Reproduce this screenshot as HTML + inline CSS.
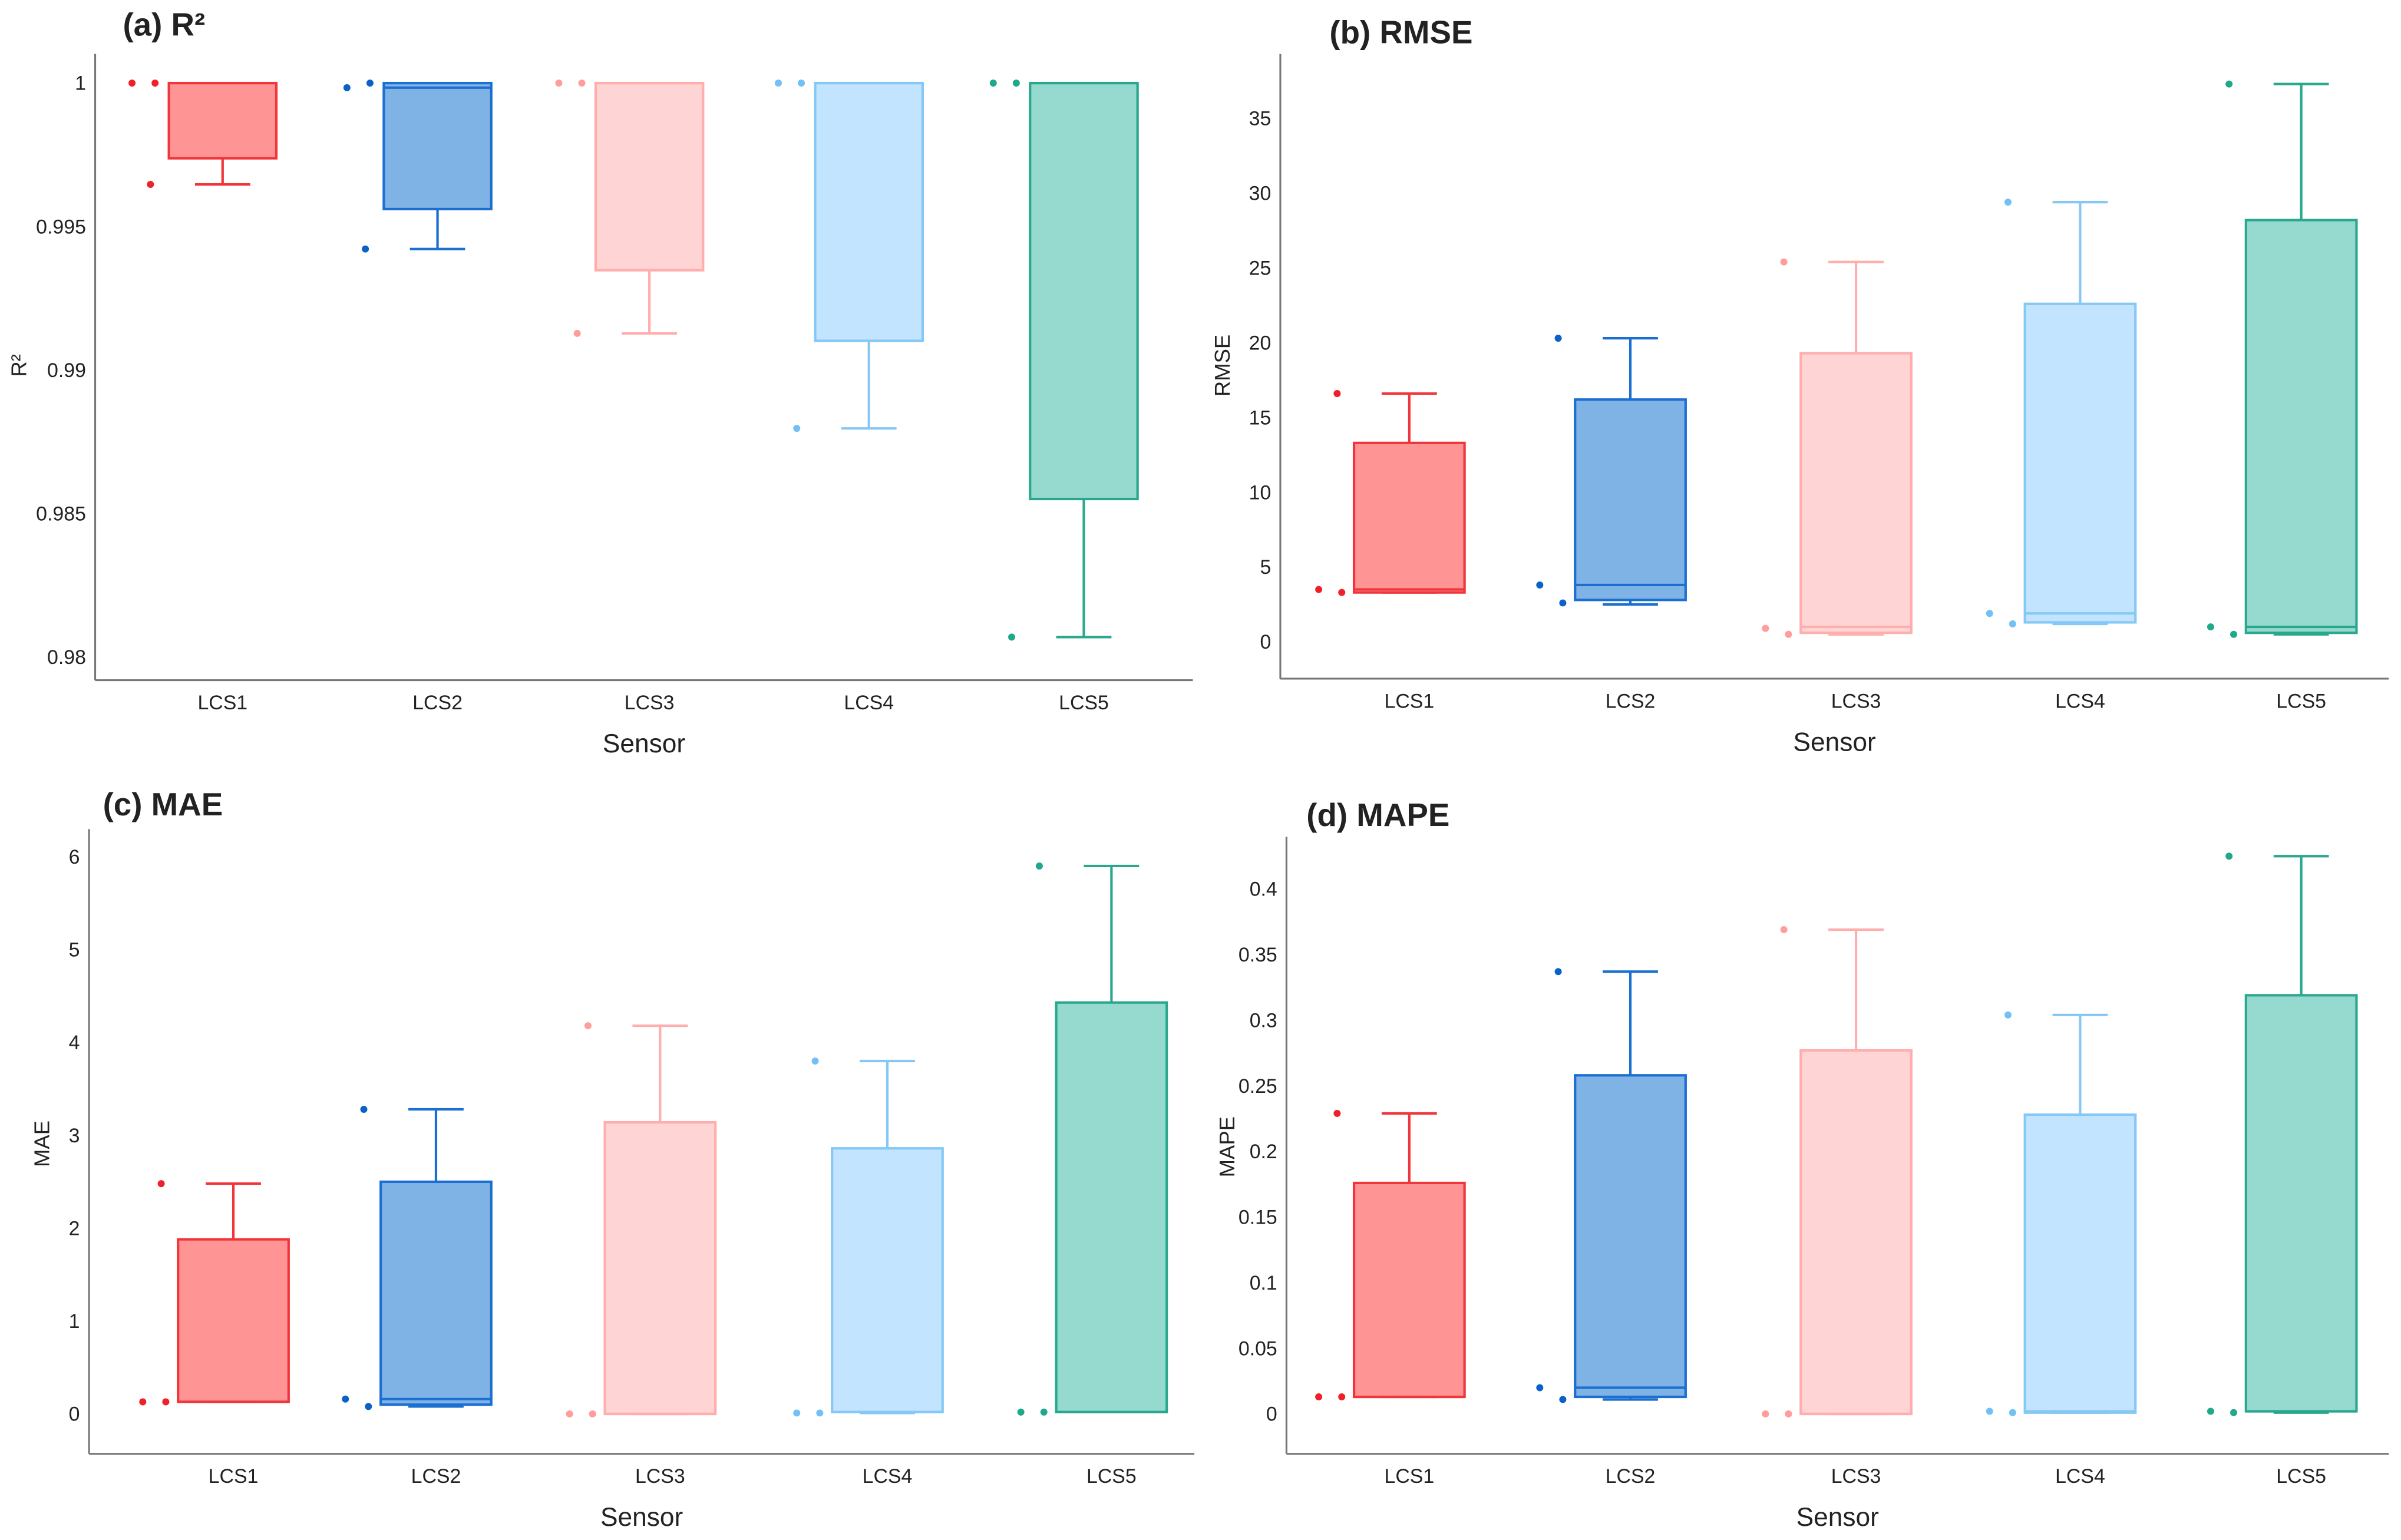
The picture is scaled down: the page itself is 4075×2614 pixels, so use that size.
<!DOCTYPE html>
<html><head><meta charset="utf-8"><style>
html,body{margin:0;padding:0;background:#fff}
svg{display:block}
text{font-family:"Liberation Sans",Arial,sans-serif;fill:#222}
</style></head><body>
<svg id="chart" width="4075" height="2614" viewBox="0 0 1564 1003" xmlns="http://www.w3.org/2000/svg"></svg>
<script>
const categories = ["LCS1","LCS2","LCS3","LCS4","LCS5"];
const strokes = ["#f0353b","#1a6fd0","#ffadad","#85c8f5","#2aa88e"];
const fills = ["#ff9494","#7fb2e5","#ffd4d4","#c2e4ff","#96d9cf"];
const dotColors = ["#f0202a","#0a62c8","#ff9c9c","#72c0f5","#1fa88c"];

// R2: [min,q1,median,q3,max]
const r2Stats = [[0.99647,0.99738,1.0,1.0,1.0],[0.99422,0.99561,0.99984,1.0,1.0],[0.99128,0.99348,1.0,1.0,1.0],[0.98797,0.99102,1.0,1.0,1.0],[0.98070,0.98551,1.0,1.0,1.0]];
const r2Points = [[1.0,1.0,0.99647],[0.99984,1.0,0.99422],[1.0,1.0,0.99128],[1.0,1.0,0.98797],[1.0,1.0,0.98070]];
const r2Ticks = [0.98,0.985,0.99,0.995,1];
const r2TickLabels = ["0.98","0.985","0.99","0.995","1"];

const rmseStats = [[3.3,3.3,3.5,13.3,16.6],[2.5,2.8,3.8,16.2,20.3],[0.5,0.6,1.0,19.3,25.4],[1.2,1.3,1.9,22.6,29.4],[0.5,0.6,1.0,28.2,37.3]];
const rmsePoints = [[3.5,3.3,16.6],[3.8,2.6,20.3],[0.9,0.5,25.4],[1.9,1.2,29.4],[1.0,0.5,37.3]];
const rmseTicks = [0,5,10,15,20,25,30,35];

const maeStats = [[0.13,0.13,0.13,1.88,2.48],[0.08,0.1,0.16,2.5,3.28],[0,0,0,3.14,4.18],[0.01,0.02,0.02,2.86,3.8],[0.02,0.02,0.02,4.43,5.9]];
const maePoints = [[0.13,0.13,2.48],[0.16,0.08,3.28],[0,0,4.18],[0.01,0.01,3.8],[0.02,0.02,5.9]];
const maeTicks = [0,1,2,3,4,5,6];

const mapeStats = [[0.013,0.013,0.013,0.176,0.229],[0.011,0.013,0.02,0.258,0.337],[0,0,0,0.277,0.369],[0.001,0.001,0.002,0.228,0.304],[0.001,0.002,0.002,0.319,0.425]];
const mapePoints = [[0.013,0.013,0.229],[0.02,0.011,0.337],[0,0,0.369],[0.002,0.001,0.304],[0.002,0.001,0.425]];
const mapeTicks = [0,0.05,0.1,0.15,0.2,0.25,0.3,0.35,0.4];
const mapeTickLabels = ["0","0.05","0.1","0.15","0.2","0.25","0.3","0.35","0.4"];

const NS="http://www.w3.org/2000/svg";
const svg=document.getElementById('chart');
function mk(tag,attrs,parent,txt){const e=document.createElementNS(NS,tag);for(const k in attrs)e.setAttribute(k,attrs[k]);if(txt!==undefined)e.textContent=txt;(parent||svg).appendChild(e);return e;}

const jitter=[-59,-44,-47];
function panel(cfg){
  const g=mk('g',{});
  
  
  const y=v=>cfg.y0+(v-cfg.v0)/(cfg.v1-cfg.v0)*(cfg.y1-cfg.y0);
  const ax=mk('line',{x1:cfg.ax,y1:cfg.top,x2:cfg.ax,y2:cfg.bottom,stroke:'#777','stroke-width':1.2},g);
  
  
  const bx=mk('line',{x1:cfg.ax,y1:cfg.bottom,x2:cfg.right,y2:cfg.bottom,stroke:'#777','stroke-width':1.2},g);
  
  
  cfg.ticks.forEach((t,i)=>{
    const lab=mk('text',{x:cfg.ax-6,y:y(t)+4.5,'text-anchor':'end','font-size':13},g,cfg.labels?cfg.labels[i]:String(t));
    
    
  });
  categories.forEach((c,i)=>{
    const cx=cfg.xs[i];
    const s=cfg.stats[i];
    const lab=mk('text',{x:cx,y:cfg.bottom+19,'text-anchor':'middle','font-size':13},g,c);
    
    
    const bg=mk('g',{},g);
    
    
    const w=cfg.bw, cap=18;
    mk('line',{x1:cx,y1:y(s[0]),x2:cx,y2:y(s[1]),stroke:strokes[i],'stroke-width':1.6},bg);
    mk('line',{x1:cx,y1:y(s[3]),x2:cx,y2:y(s[4]),stroke:strokes[i],'stroke-width':1.6},bg);
    mk('line',{x1:cx-cap,y1:y(s[0]),x2:cx+cap,y2:y(s[0]),stroke:strokes[i],'stroke-width':1.6},bg);
    mk('line',{x1:cx-cap,y1:y(s[4]),x2:cx+cap,y2:y(s[4]),stroke:strokes[i],'stroke-width':1.6},bg);
    const top=y(s[3]),bot=y(s[1]);
    mk('rect',{x:cx-w/2,y:Math.min(top,bot),width:w,height:Math.max(1,Math.abs(bot-top)),fill:fills[i],stroke:strokes[i],'stroke-width':1.6},bg);
    mk('line',{x1:cx-w/2,y1:y(s[2]),x2:cx+w/2,y2:y(s[2]),stroke:strokes[i],'stroke-width':1.6},bg);
    cfg.points[i].forEach((p,j)=>{
      const d=mk('circle',{cx:cx+jitter[j],cy:y(p),r:2.3,fill:dotColors[i]},bg);
      
      
    });
  });
  const t=mk('text',{x:cfg.tx,y:cfg.ty,'font-size':21,'font-weight':'bold'},g,cfg.title);
  
  
  const xt=mk('text',{x:(cfg.ax+cfg.right)/2,y:cfg.bottom+47,'text-anchor':'middle','font-size':17},g,'Sensor');
  
  
  const yt=mk('text',{x:0,y:0,'text-anchor':'middle','font-size':14,transform:`translate(${cfg.ylx},${cfg.yly}) rotate(-90)`},g,cfg.ytitle);
  
  
}
const xsL=[145,285,423,566,706], xsR=[918,1062,1209,1355,1499], xsC=[152,284,430,578,724];
panel({name:'panel-r2',title:'(a) R²',tx:80,ty:23,ytitle:'R²',ylx:17,yly:238,ax:62,top:35,bottom:443,right:777,
  v0:1,y0:54,v1:0.98,y1:428,ticks:r2Ticks,labels:r2TickLabels,xs:xsL,bw:70,stats:r2Stats,points:r2Points});
panel({name:'panel-rmse',title:'(b) RMSE',tx:866,ty:28,ytitle:'RMSE',ylx:801,yly:238,ax:834,top:35,bottom:442,right:1556,
  v0:0,y0:418,v1:35,y1:77,ticks:rmseTicks,xs:xsR,bw:72,stats:rmseStats,points:rmsePoints});
panel({name:'panel-mae',title:'(c) MAE',tx:67,ty:531,ytitle:'MAE',ylx:32,yly:745,ax:58,top:540,bottom:947,right:778,
  v0:0,y0:921,v1:6,y1:558,ticks:maeTicks,labels:null,xs:xsC,bw:72,stats:maeStats,points:maePoints});
panel({name:'panel-mape',title:'(d) MAPE',tx:851,ty:538,ytitle:'MAPE',ylx:804,yly:747,ax:838,top:545,bottom:947,right:1556,
  v0:0,y0:921,v1:0.4,y1:579,ticks:mapeTicks,labels:mapeTickLabels,xs:xsR,bw:72,stats:mapeStats,points:mapePoints});
</script>
</body></html>
